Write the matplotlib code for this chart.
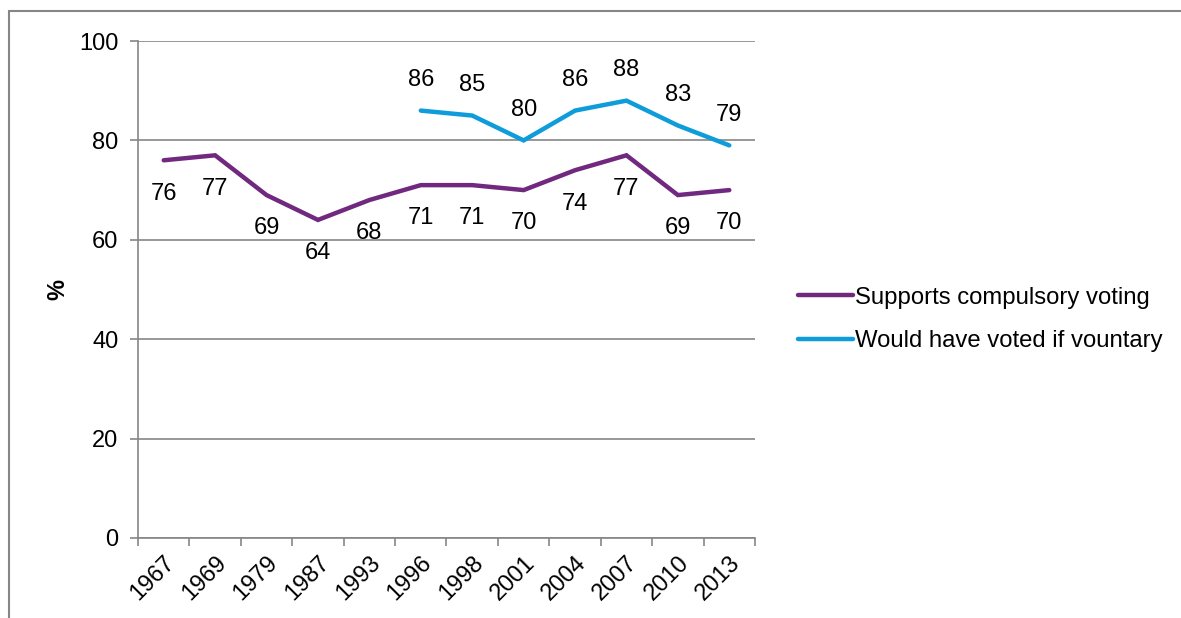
import matplotlib.pyplot as plt
from matplotlib.patches import Rectangle

plt.rcParams['font.family'] = ['Liberation Sans', 'DejaVu Sans']
plt.rcParams['font.size'] = 17

years = ["1967", "1969", "1979", "1987", "1993", "1996", "1998",
         "2001", "2004", "2007", "2010", "2013"]
supports = [76, 77, 69, 64, 68, 71, 71, 70, 74, 77, 69, 70]
voluntary = [None, None, None, None, None, 86, 85, 80, 86, 88, 83, 79]

purple = "#70297E"
blue = "#0E9CDB"
grey = "#868686"

fig = plt.figure(figsize=(11.81, 6.18), dpi=100)
ax = fig.add_axes([138/1181, 1-538/618, (755-138)/1181, (538-41)/618])

x = list(range(len(years)))
vx = [i for i, v in zip(x, voluntary) if v is not None]
vy = [v for v in voluntary if v is not None]

ax.plot(x, supports, color=purple, lw=3.2, solid_capstyle='round',
        solid_joinstyle='miter', label="Supports compulsory voting", zorder=3)
ax.plot(vx, vy, color=blue, lw=3.2, solid_capstyle='round',
        solid_joinstyle='miter', label="Would have voted if vountary", zorder=3)

for i, v in zip(x, supports):
    ax.annotate(str(v), (i, v), xytext=(0, -24), textcoords='offset points',
                ha='center', va='center', fontsize=17)
for i, v in zip(vx, vy):
    ax.annotate(str(v), (i, v), xytext=(0, 22), textcoords='offset points',
                ha='center', va='center', fontsize=17)

ax.set_xlim(-0.5, len(years) - 0.5)
ax.set_ylim(0, 100)
ax.set_yticks(range(0, 101, 20))
ax.set_xticks(x)
ax.set_xticklabels(years, rotation=45, ha='right', rotation_mode='anchor')
ax.tick_params(axis='x', length=0, pad=10)
ax.set_xticks([i - 0.5 for i in range(len(years) + 1)], minor=True)
ax.tick_params(axis='x', which='minor', length=6, color=grey, width=1.2, direction='out')
ax.tick_params(axis='y', length=6, color=grey, width=1.2, pad=8)
ax.yaxis.grid(True, color=grey, lw=1.2)
ax.set_axisbelow(True)

for s in ['top', 'right']:
    ax.spines[s].set_visible(False)
for s in ['left', 'bottom']:
    ax.spines[s].set_color(grey)
    ax.spines[s].set_linewidth(1.2)

ax.set_ylabel("%", fontweight='bold', fontsize=17, labelpad=7)

ax.legend(loc='center left', bbox_to_anchor=(1.035, 0.44), frameon=False,
          handlelength=2.3, handletextpad=0.1, labelspacing=0.9, fontsize=17.2)

fig.patches.append(Rectangle((8.5/1181, -0.1), 1.2, 1 - 11.5/618 + 0.1,
                             transform=fig.transFigure, fill=False,
                             edgecolor=grey, lw=1.5))

fig.savefig("out.png", dpi=100)
